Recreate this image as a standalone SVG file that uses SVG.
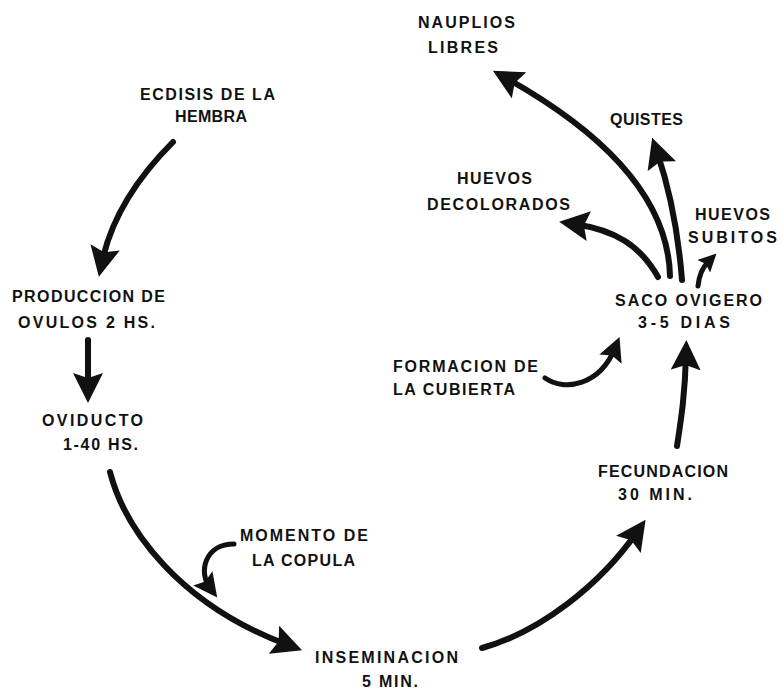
<svg xmlns="http://www.w3.org/2000/svg" width="781" height="690" viewBox="0 0 781 690">
<style>
  .t { font-family: "Liberation Sans", "DejaVu Sans", sans-serif; font-weight: bold; font-size: 16px; fill: #111; }
  .a { fill: none; stroke: #111; stroke-width: 6; stroke-linecap: round; }
  .s { fill: none; stroke: #111; stroke-width: 5; stroke-linecap: round; }
</style>
<defs>
  <marker id="big" markerUnits="userSpaceOnUse" viewBox="0 0 30 30" markerWidth="30" markerHeight="30" refX="15" refY="15" orient="auto">
    <path d="M0,0 L30,15 L0,30 L5,15 z" fill="#111"/>
  </marker>
  <marker id="mid" markerUnits="userSpaceOnUse" viewBox="0 0 24 24" markerWidth="24" markerHeight="24" refX="12" refY="12" orient="auto">
    <path d="M0,0 L24,12 L0,24 L4,12 z" fill="#111"/>
  </marker>
  <marker id="small" markerUnits="userSpaceOnUse" viewBox="0 0 18 18" markerWidth="18" markerHeight="18" refX="6" refY="9" orient="auto">
    <path d="M0,0 L18,9 L0,18 L3,9 z" fill="#111"/>
  </marker>
</defs>
<rect width="781" height="690" fill="#fff"/>

<g id="connectors">
  <path class="a" d="M173,142 C140,175 112,215 102,262" marker-end="url(#big)"/>
  <path class="a" d="M88,340 L88,388" marker-end="url(#big)"/>
  <path class="a" d="M110,472 C125,530 180,605 288,645" marker-end="url(#big)"/>
  <path class="s" d="M234,544 C205,544 198,572 210,588" marker-end="url(#mid)"/>
  <path class="a" d="M482,648 C540,632 600,585 637,532" marker-end="url(#big)"/>
  <path class="a" d="M677,446 C681,420 685,395 686,355" marker-end="url(#big)"/>
  <path class="s" d="M545,378 C565,392 600,385 615,348" marker-end="url(#mid)"/>
  <path class="a" d="M658,277 C640,245 615,230 574,224" marker-end="url(#big)"/>
  <path class="a" d="M670,276 C668,190 590,125 506,78" marker-end="url(#big)"/>
  <path class="a" d="M682,280 C678,230 670,190 657,152" marker-end="url(#big)"/>
  <path class="s" d="M698,286 C699,276 702,268 708,262" marker-end="url(#small)"/>
</g>

<g id="ecdisis">
  <text class="t" x="140" y="100" textLength="135" lengthAdjust="spacing">ECDISIS DE LA</text>
  <text class="t" x="175" y="122" textLength="72" lengthAdjust="spacing">HEMBRA</text>
</g>
<g id="produccion">
  <text class="t" x="12" y="302" textLength="153" lengthAdjust="spacing">PRODUCCION DE</text>
  <text class="t" x="18" y="328" textLength="137" lengthAdjust="spacing">OVULOS 2 HS.</text>
</g>
<g id="oviducto">
  <text class="t" x="42" y="426" textLength="101" lengthAdjust="spacing">OVIDUCTO</text>
  <text class="t" x="63" y="450" textLength="75" lengthAdjust="spacing">1-40 HS.</text>
</g>
<g id="copula">
  <text class="t" x="240" y="541" textLength="128" lengthAdjust="spacing">MOMENTO DE</text>
  <text class="t" x="252" y="566" textLength="103" lengthAdjust="spacing">LA COPULA</text>
</g>
<g id="inseminacion">
  <text class="t" x="315" y="663" textLength="143" lengthAdjust="spacing">INSEMINACION</text>
  <text class="t" x="362" y="687" textLength="56" lengthAdjust="spacing">5 MIN.</text>
</g>
<g id="fecundacion">
  <text class="t" x="598" y="477" textLength="130" lengthAdjust="spacing">FECUNDACION</text>
  <text class="t" x="618" y="500" textLength="74" lengthAdjust="spacing">30 MIN.</text>
</g>
<g id="formacion">
  <text class="t" x="393" y="372" textLength="145" lengthAdjust="spacing">FORMACION DE</text>
  <text class="t" x="393" y="395" textLength="122" lengthAdjust="spacing">LA CUBIERTA</text>
</g>
<g id="saco">
  <text class="t" x="615" y="306" textLength="147" lengthAdjust="spacing">SACO OVIGERO</text>
  <text class="t" x="638" y="328" textLength="92" lengthAdjust="spacing">3-5 DIAS</text>
</g>
<g id="nauplios">
  <text class="t" x="418" y="28" textLength="97" lengthAdjust="spacing">NAUPLIOS</text>
  <text class="t" x="428" y="53" textLength="70" lengthAdjust="spacing">LIBRES</text>
</g>
<g id="quistes">
  <text class="t" x="610" y="125" textLength="73" lengthAdjust="spacing">QUISTES</text>
</g>
<g id="decolorados">
  <text class="t" x="457" y="184" textLength="75" lengthAdjust="spacing">HUEVOS</text>
  <text class="t" x="427" y="210" textLength="143" lengthAdjust="spacing">DECOLORADOS</text>
</g>
<g id="subitos">
  <text class="t" x="695" y="220" textLength="75" lengthAdjust="spacing">HUEVOS</text>
  <text class="t" x="688" y="243" textLength="89" lengthAdjust="spacing">SUBITOS</text>
</g>
</svg>
